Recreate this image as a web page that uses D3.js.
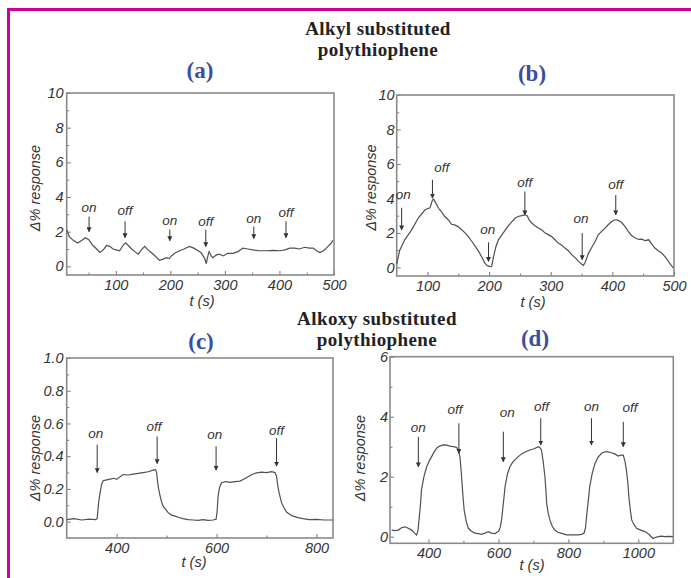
<!DOCTYPE html>
<html>
<head>
<meta charset="utf-8">
<script src="https://cdn.jsdelivr.net/npm/d3@7"></script>
<style>
  body { margin: 0; background: #fff; }
  svg { display: block; }
  .tick-label { font-family: "Liberation Sans", Arial, sans-serif; font-style: italic; font-size: 14.5px; fill: #333; }
  .ann { font-family: "Liberation Sans", Arial, sans-serif; font-style: italic; font-size: 13.5px; fill: #333; }
  .axis-title { font-family: "Liberation Sans", Arial, sans-serif; font-style: italic; font-size: 14.5px; fill: #333; }
  .heading { font-family: "Liberation Serif", "Times New Roman", serif; font-weight: bold; font-size: 19px; letter-spacing: 0.4px; fill: #222; }
  .panel-tag { font-family: "Liberation Serif", "Times New Roman", serif; font-weight: bold; font-size: 23px; fill: #3b4ea0; }
  .curve { fill: none; stroke: #505050; stroke-width: 1.2px; }
  .frame { fill: none; stroke: #8a8a8a; stroke-width: 1.6px; }
  .arrow { stroke: #333; stroke-width: 1px; }
</style>
</head>
<body>
<svg id="chart" width="691" height="578"></svg>
<script>
// panel (a) alkyl
const aT = [10,15,22,30,38,44,50,58,65,71,77,83,89,95,101,107,113,118,123,129,135,141,147,153,159,165,172,180,186,193,198,202,208,217,225,235,243,251,256,260,263,266,268,271,275,278,284,290,297,305,315,324,333,342,351,363,376,388,400,410,419,428,437,446,455,462,468,474,481,489,494,498];
const aY = [2.1,1.7,1.5,1.35,1.5,1.65,1.55,1.2,1.0,0.8,0.95,1.2,1.15,1.0,0.95,0.9,1.2,1.35,1.2,1.0,0.85,0.7,0.95,1.15,0.95,0.8,0.6,0.35,0.4,0.5,0.45,0.6,0.75,0.9,1.0,1.15,1.05,0.9,0.8,0.6,0.45,0.15,0.5,0.85,0.6,0.5,0.65,0.7,0.6,0.75,0.75,0.85,1.05,1.0,0.95,0.9,0.9,0.92,0.9,0.95,1.05,1.05,1.0,1.1,1.05,1.05,0.9,0.8,0.9,1.15,1.3,1.5];
const aAnnText = ["on","off","on","off","on","off"];
const aAnnX = [51,117,199,265,353,412];
const aAnnTip = [2.0,1.65,1.48,1.14,1.6,1.65];
const aAnnTail = [2.87,2.6,2.12,2.12,2.3,2.6];
const aAnnLabelX = [51,117,199,265,353,412];
const aAnnLabelY = [3.15,2.98,2.4,2.35,2.52,2.87];

// panel (b) alkyl
const bT = [50,55,63,74,85,96,104,108,110,114,118,123,128,134,139,145,150,155,161,166,172,177,183,188,193,197,201,204,207,211,215,221,226,232,237,242,247,253,258,262,265,269,275,280,286,291,296,301,307,312,318,323,329,334,340,345,350,353,356,361,366,372,377,383,388,394,399,403,407,411,415,421,426,431,437,443,448,453,459,464,469,475,480,486,491,495,499];
const bY = [0.2,1.0,1.6,2.16,2.86,3.34,3.45,3.9,3.96,3.7,3.43,3.2,2.95,2.75,2.5,2.45,2.35,2.2,2.0,1.8,1.5,1.25,0.93,0.6,0.25,0.1,0.06,0.05,0.6,1.2,1.6,1.9,2.16,2.45,2.66,2.85,2.95,3.0,3.05,2.98,2.75,2.57,2.4,2.28,2.15,1.99,1.9,1.8,1.6,1.41,1.28,1.12,0.95,0.74,0.55,0.35,0.2,0.12,0.3,0.8,1.12,1.5,1.89,2.1,2.28,2.5,2.66,2.75,2.76,2.7,2.6,2.35,2.08,1.85,1.7,1.62,1.64,1.55,1.6,1.35,1.12,0.95,0.83,0.6,0.35,0.15,-0.03];
const bAnnText = ["on","off","on","off","on","off"];
const bAnnX = [58,108,199,258,351,405.5];
const bAnnTip = [2.18,4.02,0.35,3.05,0.45,3.05];
const bAnnTail = [3.46,5.08,1.45,4.4,1.99,4.2];
const bAnnLabelX = [60.7,123,197.7,258,349,405.5];
const bAnnLabelY = [3.98,5.52,1.95,4.69,2.57,4.56];

// panel (c) alkoxy
const cT = [300,315,330,345,358,361,364,367,370,373,380,387,395,400,407,413,423,433,443,453,463,473,478,480,482,484,487,490,493,498,503,510,517,525,533,543,553,563,573,583,593,599,601,603,606,610,618,627,637,647,655,663,672,680,690,700,710,717,720,722,725,728,730,735,740,746,753,763,773,785,800,815,833];
const cY = [0.012,0.018,0.010,0.015,0.012,0.02,0.12,0.18,0.23,0.25,0.255,0.26,0.265,0.258,0.275,0.288,0.285,0.29,0.295,0.30,0.305,0.315,0.318,0.30,0.24,0.2,0.156,0.12,0.095,0.075,0.055,0.04,0.034,0.025,0.018,0.012,0.010,0.008,0.012,0.008,0.010,0.014,0.06,0.156,0.21,0.238,0.245,0.24,0.245,0.248,0.26,0.274,0.29,0.298,0.302,0.30,0.305,0.30,0.278,0.23,0.177,0.14,0.116,0.085,0.059,0.045,0.034,0.025,0.018,0.012,0.014,0.010,0.010];
const cAnnText = ["on","off","on","off"];
const cAnnX = [361,481,599,720];
const cAnnTip = [0.30,0.355,0.315,0.34];
const cAnnTail = [0.47,0.52,0.46,0.51];
const cAnnLabelX = [358,474.6,596.6,720];
const cAnnLabelY = [0.514,0.555,0.508,0.528];

// panel (d) alkoxy
const dT = [295,305,314,323,333,342,352,360,366,370,373,377,380,387,395,402,409,416,423,432,442,452,461,471,480,485,490,493,496,499,502,508,514,523,533,542,552,561,571,580,590,596,601,605,609,614,619,626,633,640,647,656,666,678,690,702,714,719,723,728,733,736,738,742,747,754,761,770,781,795,812,828,838,845,849,852,856,861,868,876,885,895,904,914,923,933,942,950,957,962,966,970,973,977,981,988,995,1007,1019,1030,1042,1050,1057,1066,1076,1088,1099];
const dY = [0.22,0.2,0.22,0.3,0.33,0.28,0.22,0.12,0.06,0.2,0.56,1.05,1.56,2.0,2.33,2.52,2.67,2.82,2.95,3.02,3.06,3.05,3.02,3.0,2.98,2.9,2.67,2.25,1.78,1.3,0.89,0.5,0.28,0.18,0.12,0.1,0.08,0.12,0.17,0.12,0.1,0.15,0.19,0.3,0.56,1.1,1.67,2.1,2.33,2.47,2.56,2.66,2.76,2.83,2.89,2.93,3.0,2.97,2.89,2.5,2.0,1.5,1.11,0.8,0.56,0.35,0.22,0.15,0.11,0.06,0.06,0.06,0.08,0.12,0.3,0.67,1.1,1.67,2.1,2.44,2.65,2.78,2.83,2.83,2.8,2.76,2.69,2.72,2.72,2.5,2.22,1.8,1.33,0.9,0.56,0.4,0.28,0.22,0.17,0.08,-0.06,-0.02,0.0,0.02,0.0,0.01,0.0];
const dAnnText = ["on","off","on","off","on","off"];
const dAnnX = [371,487,614,721,866,957];
const dAnnTip = [2.33,2.78,2.5,3.06,3.06,3.0];
const dAnnTail = [3.33,3.78,3.5,3.95,3.95,3.83];
const dAnnLabelX = [371,475.7,625,723,866,976];
const dAnnLabelY = [3.48,4.09,3.98,4.2,4.2,4.15];

const headingTop = ["Alkyl substituted", "polythiophene"];
const headingBottom = ["Alkoxy substituted", "polythiophene"];
const yTitle = "\u0394% response";
const xTitle = "t (s)";

const svg = d3.select("#chart");
svg.append("rect").attr("width", 691).attr("height", 578).attr("fill", "#fff");

// magenta border (top and left edges)
svg.append("path")
  .attr("d", "M8.5,578 L8.5,9.5 L691,9.5")
  .attr("fill", "none").attr("stroke", "#cc0099").attr("stroke-width", 3);

svg.append("defs").append("marker")
  .attr("id", "head").attr("viewBox", "0 0 8 8")
  .attr("refX", 7).attr("refY", 4)
  .attr("markerWidth", 5).attr("markerHeight", 5)
  .attr("orient", "auto")
  .append("path").attr("d", "M0,0 L8,4 L0,8 Z").attr("fill", "#333");

function panel(p) {
  const x = d3.scaleLinear().domain(p.xDomain).range([p.left, p.right]);
  const y = d3.scaleLinear().domain(p.yDomain).range([p.bottom, p.top]);
  const g = svg.append("g");

  // inward ticks, major + minor
  const xAxis = d3.axisBottom(x).tickValues(p.xTicks).tickSizeInner(-4).tickSizeOuter(0)
    .tickPadding(p.xPad).tickFormat(d3.format("d"));
  const xMinor = d3.axisBottom(x).tickValues(p.xMinor).tickSizeInner(-2.5).tickSizeOuter(0).tickFormat("");
  const yAxis = d3.axisLeft(y).tickValues(p.yTicks).tickSizeInner(-4).tickSizeOuter(0)
    .tickPadding(p.yPad).tickFormat(p.yFormat);
  const yMinor = d3.axisLeft(y).tickValues(p.yMinor).tickSizeInner(-2.5).tickSizeOuter(0).tickFormat("");

  [[xAxis, "x"], [xMinor, "x"], [yAxis, "y"], [yMinor, "y"]].forEach(([ax, dir]) => {
    const a = g.append("g")
      .attr("transform", dir === "x" ? `translate(0,${p.bottom})` : `translate(${p.left},0)`)
      .call(ax);
    a.select(".domain").remove();
    a.selectAll("line").attr("stroke", "#777").attr("stroke-width", 1);
    a.selectAll("text").attr("class", "tick-label").attr("fill", null).attr("font-size", null).attr("font-family", null);
  });

  g.append("rect").attr("class", "frame")
    .attr("x", p.left).attr("y", p.top)
    .attr("width", p.right - p.left).attr("height", p.bottom - p.top);

  const line = d3.line().x((d, i) => x(p.t[i])).y(d => y(d));
  g.append("path").attr("class", "curve").attr("d", line(p.v));

  p.annText.forEach((txt, i) => {
    g.append("line").attr("class", "arrow")
      .attr("x1", x(p.annX[i])).attr("x2", x(p.annX[i]))
      .attr("y1", y(p.annTail[i])).attr("y2", y(p.annTip[i]))
      .attr("marker-end", "url(#head)");
    g.append("text").attr("class", "ann")
      .attr("x", x(p.annLabelX[i])).attr("y", y(p.annLabelY[i]))
      .attr("text-anchor", "middle").text(txt);
  });

  g.append("text").attr("class", "axis-title")
    .attr("transform", `translate(${p.yTitleX},${(p.top + p.bottom) / 2 + p.yTitleDy}) rotate(-90)`)
    .attr("text-anchor", "middle").attr("dy", "0.35em").text(yTitle);
  g.append("text").attr("class", "axis-title")
    .attr("x", p.xTitleX).attr("y", p.xTitleY).attr("text-anchor", "middle").text(xTitle);

  g.append("text").attr("class", "panel-tag")
    .attr("x", p.tagX).attr("y", p.tagY).attr("text-anchor", "middle").text(p.tag);
}

panel({
  tag: "(a)", tagX: 200, tagY: 78,
  t: aT, v: aY, xDomain: [10, 500], yDomain: [-0.5, 10],
  left: 66.7, right: 334, top: 93, bottom: 275,
  xTicks: [100, 200, 300, 400, 500], xMinor: [50, 150, 250, 350, 450],
  yTicks: [0, 2, 4, 6, 8, 10], yMinor: [1, 3, 5, 7, 9], yFormat: d3.format("d"),
  xPad: 5, yPad: 3,
  annText: aAnnText, annX: aAnnX, annTip: aAnnTip, annTail: aAnnTail, annLabelX: aAnnLabelX, annLabelY: aAnnLabelY,
  yTitleX: 35, yTitleDy: 4, xTitleX: 202, xTitleY: 306
});

panel({
  tag: "(b)", tagX: 532, tagY: 81,
  t: bT, v: bY, xDomain: [50, 500], yDomain: [-0.5, 10],
  left: 396.7, right: 674, top: 95, bottom: 276,
  xTicks: [100, 200, 300, 400, 500], xMinor: [150, 250, 350, 450],
  yTicks: [0, 2, 4, 6, 8, 10], yMinor: [1, 3, 5, 7, 9], yFormat: d3.format("d"),
  xPad: 5, yPad: 2,
  annText: bAnnText, annX: bAnnX, annTip: bAnnTip, annTail: bAnnTail, annLabelX: bAnnLabelX, annLabelY: bAnnLabelY,
  yTitleX: 371, yTitleDy: 2, xTitleX: 533, xTitleY: 307
});

panel({
  tag: "(c)", tagX: 201, tagY: 349,
  t: cT, v: cY, xDomain: [300, 833], yDomain: [-0.1, 1.0],
  left: 66.7, right: 333, top: 358, bottom: 538,
  xTicks: [400, 600, 800], xMinor: [500, 700],
  yTicks: [0, 0.2, 0.4, 0.6, 0.8, 1.0], yMinor: [0.1, 0.3, 0.5, 0.7, 0.9], yFormat: d3.format(".1f"),
  xPad: 5, yPad: 3,
  annText: cAnnText, annX: cAnnX, annTip: cAnnTip, annTail: cAnnTail, annLabelX: cAnnLabelX, annLabelY: cAnnLabelY,
  yTitleX: 35, yTitleDy: 10, xTitleX: 194, xTitleY: 567
});

panel({
  tag: "(d)", tagX: 535, tagY: 346,
  t: dT, v: dY, xDomain: [290, 1100], yDomain: [-0.22, 6],
  left: 390, right: 673.3, top: 356.7, bottom: 543.3,
  xTicks: [400, 600, 800, 1000], xMinor: [500, 700, 900],
  yTicks: [0, 2, 4, 6], yMinor: [1, 3, 5], yFormat: d3.format("d"),
  xPad: 4, yPad: 2,
  annText: dAnnText, annX: dAnnX, annTip: dAnnTip, annTail: dAnnTail, annLabelX: dAnnLabelX, annLabelY: dAnnLabelY,
  yTitleX: 360, yTitleDy: 8, xTitleX: 532, xTitleY: 570
});

// group headings
svg.append("g").selectAll("text").data(headingTop).join("text")
  .attr("class", "heading").attr("text-anchor", "middle")
  .attr("x", 378).attr("y", (d, i) => 35 + i * 21).text(d => d);
svg.append("g").selectAll("text").data(headingBottom).join("text")
  .attr("class", "heading").attr("text-anchor", "middle")
  .attr("x", 377).attr("y", (d, i) => 325 + i * 21).text(d => d);
</script>
</body>
</html>
